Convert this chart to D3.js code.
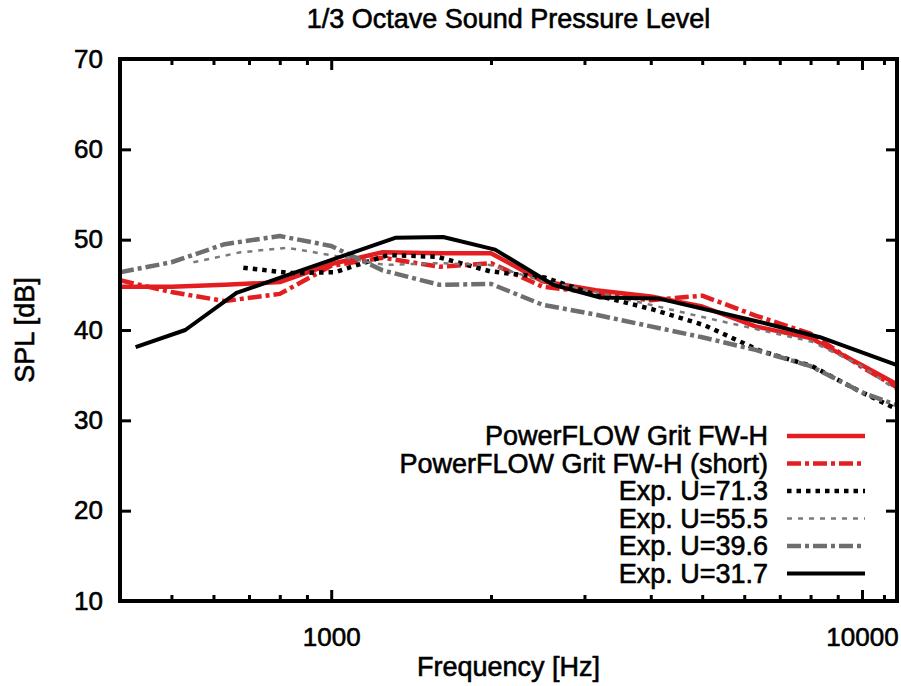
<!DOCTYPE html>
<html>
<head>
<meta charset="utf-8">
<script src="https://cdn.jsdelivr.net/npm/d3@7"></script>
<style>
  body { margin: 0; background: #fff; }
  text { font-family: "Liberation Sans", Arial, sans-serif; fill: #000; stroke: #000; stroke-width: 0.6px; }
</style>
</head>
<body>
<div id="viz"></div>
<script>
// 1/3 octave band centres (simulation + U=39.6 run)
const freqNominal = [400, 500, 630, 800, 1000, 1250, 1600, 2000, 2500, 3150, 4000, 5000, 6300, 8000, 10000, 12500];
const splPowerflow = [44.8, 44.8, 45.0, 45.3, 47.3, 48.6, 48.5, 48.5, 45.4, 44.4, 43.7, 42.6, 40.4, 39.1, 36.1, 33.0];
const splPowerflowShort = [45.5, 44.2, 43.2, 44.0, 47.1, 48.0, 47.0, 47.4, 44.8, 44.1, 43.3, 43.8, 41.6, 39.6, 35.9, 32.6];
const splExp396 = [46.4, 47.5, 49.5, 50.4, 49.3, 46.6, 45.0, 45.1, 42.8, 41.7, 40.4, 39.2, 37.8, 36.0, 33.1, 31.0];

// experiment runs with their own band frequencies
const freqExp713 = [683, 837, 1017, 1280, 1584, 1992, 2529, 3183, 4023, 5062, 6426, 8050, 9913, 12050];
const splExp713 = [46.9, 46.3, 46.4, 48.3, 48.1, 46.5, 45.8, 43.8, 42.3, 40.5, 37.7, 36.0, 33.2, 30.8];

const freqExp555 = [550, 674, 826, 996, 1264, 1584, 1992, 2475, 3142, 3989, 4954, 6426, 8050, 9913, 12500];
const splExp555 = [47.5, 48.6, 49.1, 48.3, 47.2, 47.4, 47.2, 45.5, 44.2, 42.8, 41.5, 40.0, 38.7, 36.1, 32.1];

const freqExp317 = [428, 531, 663, 830, 1040, 1320, 1625, 2036, 2619, 3211, 4128, 5333, 6510, 8334, 10580, 13430];
const splExp317 = [38.1, 40.0, 44.1, 46.1, 48.1, 50.2, 50.3, 48.9, 45.0, 43.6, 43.5, 42.0, 40.8, 39.2, 37.0, 34.8];

const yTicks = [10, 20, 30, 40, 50, 60, 70];
const xMajor = [1000, 10000];
const xMinor = [500, 600, 700, 800, 900, 2000, 3000, 4000, 5000, 6000, 7000, 8000, 9000, 11000];

const seriesNames = ["PowerFLOW Grit FW-H", "PowerFLOW Grit FW-H (short)", "Exp. U=71.3", "Exp. U=55.5", "Exp. U=39.6", "Exp. U=31.7"];

let zip = (f, v) => f.map((d, i) => ({ f: d, v: v[i] }));

let series = [
  { name: seriesNames[0], data: zip(freqNominal, splPowerflow), color: "#e41e20", width: 4.5, dash: null },
  { name: seriesNames[1], data: zip(freqNominal, splPowerflowShort), color: "#e41e20", width: 4.5, dash: "14,4,4,4" },
  { name: seriesNames[2], data: zip(freqExp713, splExp713), color: "#000", width: 4.5, dash: "4.5,5" },
  { name: seriesNames[3], data: zip(freqExp555, splExp555), color: "#7a7a7a", width: 2.5, dash: "5,6" },
  { name: seriesNames[4], data: zip(freqNominal, splExp396), color: "#6e6e6e", width: 4.5, dash: "14,4,4,4" },
  { name: seriesNames[5], data: zip(freqExp317, splExp317), color: "#000", width: 4, dash: null }
];

let W = 901, H = 686;
let plotL = 120, plotR = 897, plotT = 59, plotB = 601;

let svg = d3.select("#viz").append("svg")
  .attr("width", W)
  .attr("height", H);

let x = d3.scaleLog().domain([400, 11640]).range([plotL, plotR]);
let y = d3.scaleLinear().domain([10, 70]).range([plotB, plotT]);

svg.append("clipPath").attr("id", "plotClip")
  .append("rect")
  .attr("x", plotL).attr("y", plotT)
  .attr("width", plotR - plotL).attr("height", plotB - plotT);

// lines
let line = d3.line()
  .x(d => x(d.f))
  .y(d => y(d.v));

svg.append("g")
  .attr("clip-path", "url(#plotClip)")
  .selectAll("path")
  .data(series)
  .enter()
  .append("path")
  .attr("fill", "none")
  .attr("stroke", d => d.color)
  .attr("stroke-width", d => d.width)
  .attr("stroke-dasharray", d => d.dash)
  .attr("stroke-linejoin", "round")
  .attr("d", d => line(d.data));

// axes, ticks pointing inwards on all sides
function styleAxis(g, size) {
  g.select(".domain").remove();
  g.selectAll(".tick line").attr("stroke", "#000").attr("stroke-width", 3);
  g.selectAll(".tick text").style("font-size", size + "px").style("font-family", "Liberation Sans, Arial, sans-serif").attr("fill", "#000");
}

svg.append("g")
  .attr("transform", `translate(0,${plotB})`)
  .call(d3.axisBottom(x).tickValues(xMajor).tickSize(-11).tickPadding(27).tickFormat(d3.format("d")))
  .call(g => styleAxis(g, 26));

svg.append("g")
  .attr("transform", `translate(0,${plotB})`)
  .call(d3.axisBottom(x).tickValues(xMinor).tickSize(-6).tickFormat(""))
  .call(g => styleAxis(g, 26));

svg.append("g")
  .attr("transform", `translate(0,${plotT})`)
  .call(d3.axisTop(x).tickValues(xMajor).tickSize(-11).tickFormat(""))
  .call(g => styleAxis(g, 26));

svg.append("g")
  .attr("transform", `translate(0,${plotT})`)
  .call(d3.axisTop(x).tickValues(xMinor).tickSize(-6).tickFormat(""))
  .call(g => styleAxis(g, 26));

svg.append("g")
  .attr("transform", `translate(${plotL},0)`)
  .call(d3.axisLeft(y).tickValues(yTicks).tickSize(-11).tickPadding(17))
  .call(g => styleAxis(g, 26));

svg.append("g")
  .attr("transform", `translate(${plotR},0)`)
  .call(d3.axisRight(y).tickValues(yTicks).tickSize(-11).tickFormat(""))
  .call(g => styleAxis(g, 26));

// frame
svg.append("rect")
  .attr("x", plotL).attr("y", plotT)
  .attr("width", plotR - plotL).attr("height", plotB - plotT)
  .attr("fill", "none")
  .attr("stroke", "#000")
  .attr("stroke-width", 4);

// titles
svg.append("text")
  .attr("x", (plotL + plotR) / 2)
  .attr("y", 28)
  .attr("text-anchor", "middle")
  .style("font-size", "27px")
  .text("1/3 Octave Sound Pressure Level");

svg.append("text")
  .attr("x", (plotL + plotR) / 2)
  .attr("y", 676)
  .attr("text-anchor", "middle")
  .style("font-size", "27px")
  .text("Frequency [Hz]");

svg.append("text")
  .attr("transform", "rotate(-90)")
  .attr("x", -330)
  .attr("y", 34)
  .attr("text-anchor", "middle")
  .style("font-size", "27px")
  .text("SPL [dB]");

// legend
let legend = svg.append("g")
  .selectAll("g")
  .data(series)
  .enter()
  .append("g")
  .attr("transform", (d, i) => `translate(0,${436 + i * 27.5})`);

legend.append("text")
  .attr("x", 768)
  .attr("dy", "0.35em")
  .attr("text-anchor", "end")
  .style("font-size", "27px")
  .text(d => d.name);

legend.append("line")
  .attr("x1", 787).attr("x2", 865)
  .attr("stroke", d => d.color)
  .attr("stroke-width", d => d.width)
  .attr("stroke-dasharray", d => d.dash);
</script>
</body>
</html>
